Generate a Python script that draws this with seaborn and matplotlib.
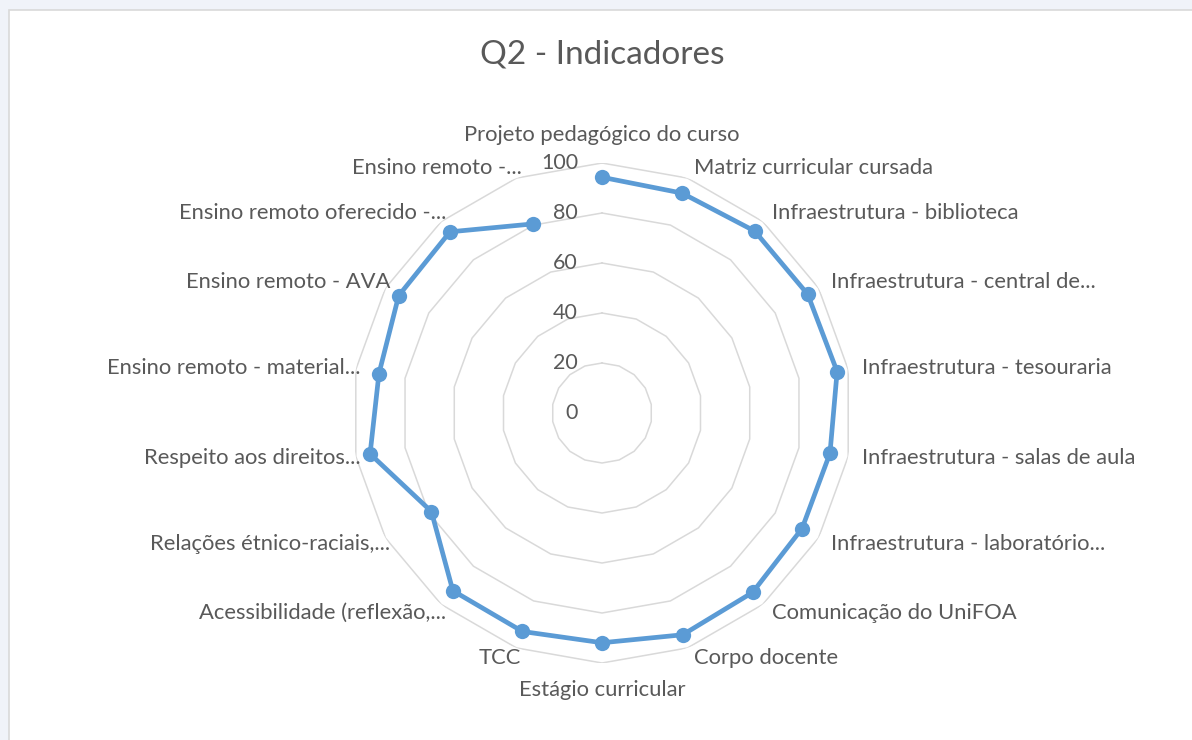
import numpy as np
import pandas as pd
import matplotlib.pyplot as plt
from matplotlib.patches import Rectangle
import seaborn as sns

## dados do grafico
categorias = [
    'Projeto pedagógico do curso',
    'Matriz curricular cursada',
    'Infraestrutura - biblioteca',
    'Infraestrutura - central de...',
    'Infraestrutura - tesouraria',
    'Infraestrutura - salas de aula',
    'Infraestrutura - laboratório...',
    'Comunicação do UniFOA',
    'Corpo docente',
    'Estágio curricular',
    'TCC',
    'Acessibilidade (reflexão,...',
    'Relações étnico-raciais,...',
    'Respeito aos direitos...',
    'Ensino remoto - material...',
    'Ensino remoto - AVA',
    'Ensino remoto oferecido -...',
    'Ensino remoto -...',
]
valores = [94.3, 93.6, 95.0, 95.0, 95.5, 92.6, 92.4, 93.7, 94.4,
           91.9, 93.0, 92.8, 78.8, 94.2, 90.6, 93.9, 94.6, 80.5]
niveis = [0, 20, 40, 60, 80, 100]

## estilo
sns.set_theme(style='white')
plt.rcParams['font.family'] = ['Lato', 'DejaVu Sans']
cinza_txt = '#595959'
cinza_grade = '#d9d9d9'
azul = '#5b9bd5'

n = len(categorias)
angulos = np.linspace(0, 2 * np.pi, n, endpoint=False)
df = pd.DataFrame({'theta': np.append(angulos, angulos[0]),
                   'valor': valores + [valores[0]]})

W, H = 1192, 740
fig = plt.figure(figsize=(W / 100, H / 100), dpi=100)
fig.patch.set_facecolor('#f0f3f9')
fig.add_artist(Rectangle((9 / W, -0.1), 1.2, 1.1 - 10 / H, transform=fig.transFigure,
                         facecolor='white', edgecolor=cinza_grade, linewidth=1.2, zorder=0))

## eixo polar centrado em (602, 413), raio 250 px
cx, cy, r = 602, 413, 250
ax = fig.add_axes([(cx - r) / W, (H - cy - r) / H, 2 * r / W, 2 * r / H], projection='polar')
ax.set_facecolor('none')
ax.set_theta_zero_location('N')
ax.set_theta_direction(-1)

## grade poligonal
for nv in niveis[1:]:
    ax.plot(df['theta'], [nv] * (n + 1), color=cinza_grade, linewidth=1.1, zorder=1)

## serie
sns.lineplot(data=df, x='theta', y='valor', sort=False, marker='o', markersize=11,
             markeredgewidth=0, color=azul, linewidth=3.4, ax=ax, zorder=3)

ax.set_xlim(0, 2 * np.pi)
ax.set_ylim(0, 100)
ax.grid(False)
ax.spines['polar'].set_visible(False)
ax.set_xticks([])
ax.set_yticks([])
ax.set_xlabel('')
ax.set_ylabel('')

## rotulos do eixo radial
for nv in niveis:
    ax.annotate(str(nv), xy=(0, nv), xytext=(-24, 0), textcoords='offset pixels',
                ha='right', va='center', fontsize=15.5, color=cinza_txt)

## rotulos das categorias
for ang, cat in zip(angulos, categorias):
    s, c = np.sin(ang), np.cos(ang)
    if abs(s) < 1e-6:
        ha, dx = 'center', 0
        dy = 28 if c > 0 else -27
    elif s > 0:
        ha, dx, dy = 'left', 6 + 8 * s ** 2, 11 * c
    else:
        ha, dx, dy = 'right', 5, 11 * c
    ax.annotate(cat, xy=(ang, 100), xytext=(dx, dy), textcoords='offset pixels',
                ha=ha, va='center', fontsize=15.8, color=cinza_txt, annotation_clip=False)

## titulo
fig.text(cx / W, 1 - 55 / H, 'Q2 - Indicadores', ha='center', va='center',
         fontsize=24, color=cinza_txt)

plt.savefig('out.png', dpi=100, facecolor=fig.get_facecolor())
plt.close()
